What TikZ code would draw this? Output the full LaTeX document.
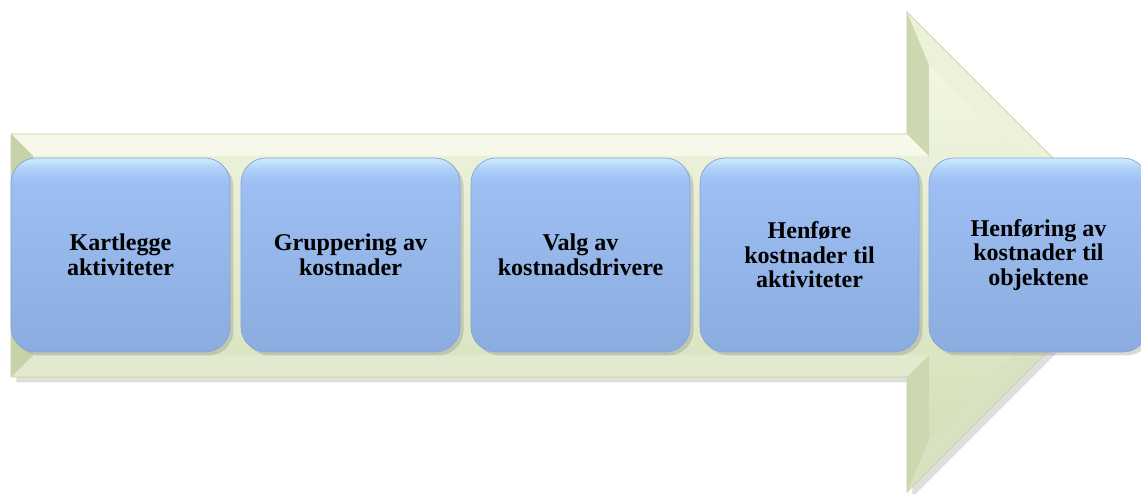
\documentclass[tikz,border=0pt]{standalone}
\usepackage{fontspec}
\setmainfont{Liberation Serif}[BoldFont={Liberation Serif Bold}]
\usetikzlibrary{shadows}

\definecolor{bevtop}{RGB}{246,249,234}
\definecolor{bevleft}{RGB}{198,210,168}
\definecolor{bevbot}{RGB}{226,233,206}
\definecolor{bevhead}{RGB}{204,216,176}
\definecolor{bevslant}{RGB}{236,242,218}
\definecolor{bevslantb}{RGB}{216,226,192}
\definecolor{facetop}{RGB}{242,246,226}
\definecolor{facebot}{RGB}{212,224,186}
\definecolor{boxtop}{RGB}{206,236,255}
\definecolor{boxhi}{RGB}{172,206,248}
\definecolor{boxmid}{RGB}{156,190,242}
\definecolor{boxbot}{RGB}{138,172,222}
\definecolor{boxline}{RGB}{132,164,212}

\pgfdeclareverticalshading{boxshade}{100bp}{color(0bp)=(boxbot); color(25bp)=(boxbot);
  color(68bp)=(boxmid); color(72bp)=(boxhi); color(75bp)=(boxtop); color(100bp)=(boxtop)}

\begin{document}
\begin{tikzpicture}[%
      x=0.02cm, y=-0.02cm,
      stepbox/.style={rounded corners=0.5cm, minimum width=4.38cm,
        minimum height=3.88cm, align=center, draw=boxline, line width=0.4pt,
        shading=boxshade,
        drop shadow={shadow xshift=2pt, shadow yshift=-2pt, opacity=0.3},
        font=\fontsize{13.7}{14}\selectfont\bfseries},
      ]
      \useasboundingbox (0,0) rectangle (1141,493);
      \clip (0,0) rectangle (1141,493);

      % arrow
      \fill [drop shadow={shadow xshift=3pt, shadow yshift=-3pt, opacity=0.25}, color=facebot]
        (11,134) -- (907,134) -- (907,12) -- (1147,252) -- (907,492) -- (907,377) -- (11,377) -- cycle;
      \fill [color=bevtop] (11,134) -- (907,134) -- (929,156) -- (33,156) -- cycle;
      \fill [color=bevhead] (907,134) -- (907,12) -- (929,65) -- (929,156) -- cycle;
      \fill [color=bevslant] (907,12) -- (1147,252) -- (1116,252) -- (929,65) -- cycle;
      \fill [color=bevslantb] (1147,252) -- (907,492) -- (929,439) -- (1116,252) -- cycle;
      \fill [color=bevhead] (907,492) -- (907,377) -- (929,355) -- (929,439) -- cycle;
      \fill [color=bevbot] (907,377) -- (11,377) -- (33,355) -- (929,355) -- cycle;
      \fill [color=bevleft] (11,377) -- (11,134) -- (33,156) -- (33,355) -- cycle;
      \shade [top color=facetop, bottom color=facebot]
        (33,156) -- (929,156) -- (929,65) -- (1116,252) -- (929,439) -- (929,355) -- (33,355) -- cycle;
      \draw [color=bevleft, line width=0.4pt]
        (11,134) -- (907,134) -- (907,12) -- (1147,252) -- (907,492) -- (907,377) -- (11,377) -- cycle;

      % steps
      \node [stepbox] (kartlegge) at (120.5,255) {Kartlegge\\aktiviteter};
      \node [stepbox] (gruppering) at (350.5,255) {Gruppering av\\kostnader};
      \node [stepbox] (valg) at (580.5,255) {Valg av\\kostnadsdrivere};
      \node [stepbox] (henfore) at (809.5,255) {Henføre\\kostnader til\\aktiviteter};
      \node [stepbox] (henforing) at (1038.5,255) {Henføring av\\kostnader til\\objektene};
\end{tikzpicture}
\end{document}
